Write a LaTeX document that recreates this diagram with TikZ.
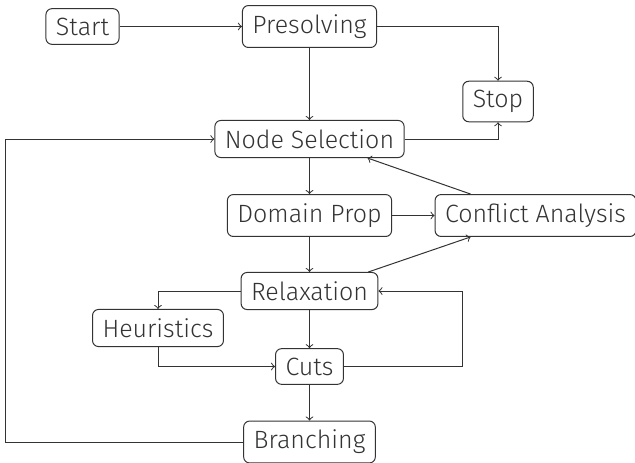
\documentclass[tikz,border=0pt]{standalone}
\usepackage{fontspec}
\setmainfont{Fira Sans Light}
\usepackage{xcolor}
\usepackage{tikz}
\usetikzlibrary{arrows,positioning}

\begin{document}
\begin{tikzpicture}[
    node distance=37.75pt, on grid,
    every node/.style={font=\fontsize{12.5}{15}\selectfont, text=black!80},
    box/.style={rectangle, draw=black!80, rounded corners=3pt, inner xsep=5pt, inner ysep=4.5pt, line width=0.5pt},
    arrow/.style={->, draw=black!80, line width=0.5pt},
]
    \useasboundingbox (-154.75pt,13.25pt) rectangle (162.75pt,-217.75pt);

    % Top row
    \node[box] (presolve) at (0,0) {Presolving};
    \node[box, left=113.5pt of presolve] (start) {Start};

    % Main loop
    \node[box, below=56.25pt of presolve] (nodesel) {Node Selection};
    \node[box, above right=18.75pt and 94.25pt of nodesel] (stop) {Stop};
    \node[box, below=38.25pt of nodesel] (domprop) {Domain Prop};
    \node[box, right=113pt of domprop] (conflict) {Conflict Analysis};
    \node[box, below=of domprop] (relax) {Relaxation};
    \node[box, below left=18.5pt and 75.75pt of relax] (heur) {Heuristics};
    \node[box, below=of relax] (cuts) {Cuts};
    \node[box, below=of cuts] (branch) {Branching};

    % Arrows
    \draw[arrow] (start) -- (presolve);
    \draw[arrow] (presolve) -- (nodesel);
    \draw[arrow] (presolve.east) -| (stop.north);
    \draw[arrow] (nodesel.east) -| (stop.south);
    \draw[arrow] (nodesel) -- (domprop);
    \draw[arrow] (domprop) -- (conflict);
    \draw[arrow] ([xshift=18pt]conflict.north west) -- ([xshift=-18.5pt]nodesel.south east);
    \draw[arrow] (domprop) -- (relax);
    \draw[arrow] ([xshift=-5pt]relax.north east) -- ([xshift=18pt]conflict.south west);
    \draw[arrow] (relax.west) -| (heur.north);
    \draw[arrow] (relax) -- (cuts);
    \draw[arrow] (heur.south) |- (cuts.west);
    \draw[arrow] (cuts.east) -- ++(59.5pt,0) |- (relax.east);
    \draw[arrow] (cuts) -- (branch);
    \draw[arrow] (branch.west) -- ++(-119pt,0) |- (nodesel.west);
\end{tikzpicture}
\end{document}
